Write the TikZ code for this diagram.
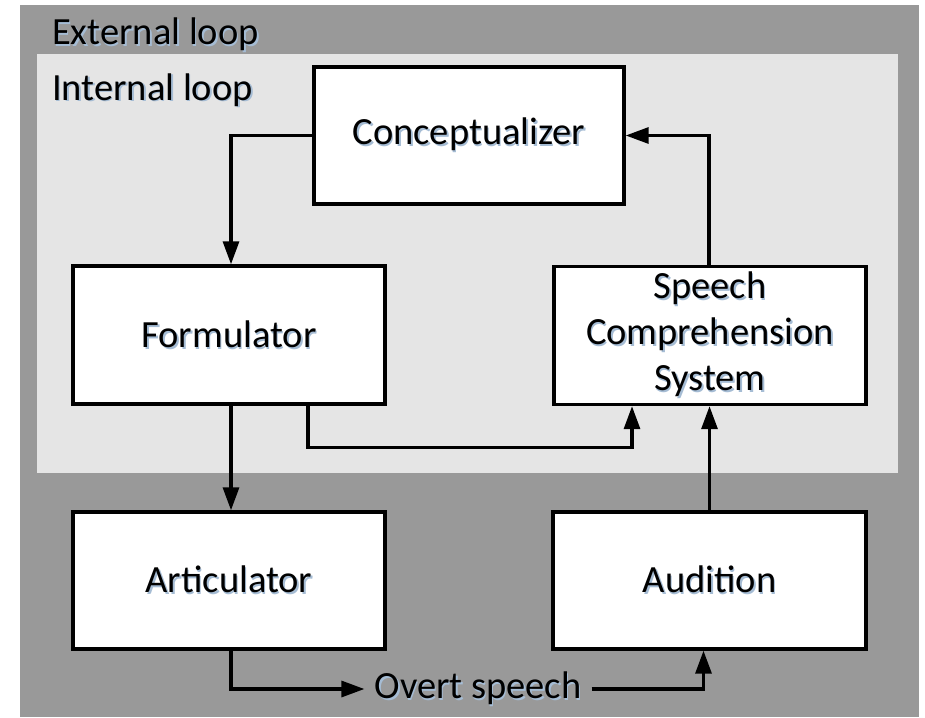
\documentclass[tikz,border=0pt]{standalone}
\usepackage{fontspec}
\setmainfont{Carlito}
\usetikzlibrary{arrows.meta}
\definecolor{outerc}{RGB}{153,153,153}
\definecolor{innerc}{RGB}{229,229,229}
\definecolor{shadowc}{RGB}{165,188,212}
\newcommand\shd[1]{\rlap{\hspace{1.6pt}\raisebox{-1.6pt}{\color{shadowc}#1}}#1}
\tikzset{
  box/.style={draw=black, line width=3.4pt, fill=white, minimum width=310pt, minimum height=137pt, inner sep=0pt, align=center, font=\fontsize{38.5}{46}\selectfont},
  arr/.style={line width=3.2pt, -{Triangle[length=23pt,width=16pt]}},
  lbl/.style={font=\fontsize{38.5}{46}\selectfont, inner sep=0pt, anchor=base west},
}
\begin{document}
\begin{tikzpicture}[x=1pt,y=-1pt]
\useasboundingbox (0,0) rectangle (925,717);
\fill[outerc] (20,5) rectangle (919,717);
\fill[innerc] (37,54) rectangle (898,473);
\node[lbl] (ext) at (52,45) {\shd{External loop}};
\node[lbl] (int) at (52,100) {\shd{Internal loop}};
\node[box] (concept) at (469,135.5) {\shd{Conceptualizer}};
\node[box, minimum width=312pt, minimum height=138pt] (form) at (229,335) {\shd{Formulator}};
\node[box, minimum width=312pt, minimum height=138pt] (speech) at (710,335.5) {\shd{Speech}\\\shd{Comprehension}\\\shd{System}};
\node[box, minimum width=312pt] (artic) at (229,580.5) {\shd{Articulator}};
\node[box, minimum width=313pt] (aud) at (709.5,580.5) {\shd{Audition}};
\node[font=\fontsize{38.5}{46}\selectfont, inner xsep=10pt, inner ysep=0pt] (overt) at (478,689) {\shd{Overt speech}};
\draw[arr] (concept.west) -| ([xshift=2pt]form.north);
\draw[arr] ([xshift=-1pt]speech.north) |- (concept.east);
\draw[arr] ([xshift=2pt]form.south) -- ([xshift=2pt]artic.north);
\draw[arr] ([xshift=79pt]form.south) -- ++(0,42) -| ([xshift=-78pt]speech.south);
\draw[arr] (aud.north) -- (aud.north |- speech.south);
\draw[arr] ([xshift=2pt]artic.south) |- (overt.west);
\draw[arr] (overt.east) -| ([xshift=-6pt]aud.south);
\end{tikzpicture}
\end{document}
